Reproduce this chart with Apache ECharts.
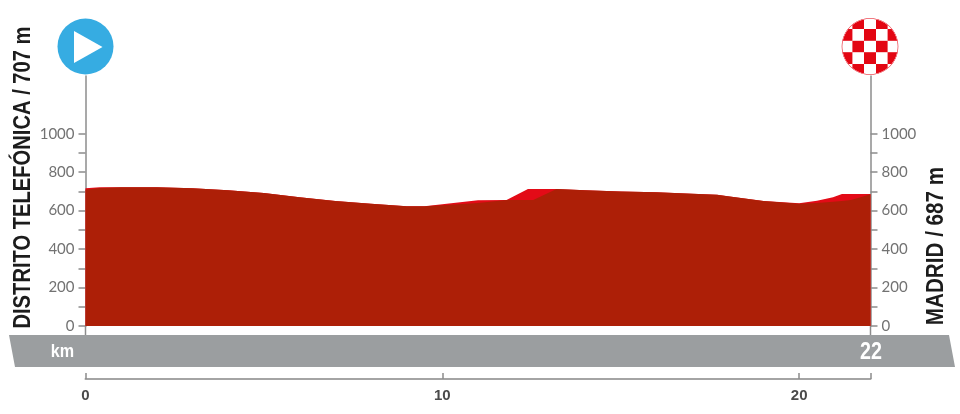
<!DOCTYPE html>
<html><head><meta charset="utf-8">
<style>html,body{margin:0;padding:0;background:#fff}#c{width:960px;height:414px}</style>
<script src="https://cdn.jsdelivr.net/npm/echarts@6/dist/echarts.min.js"></script>
</head><body><div id="c"></div>
<script>
const km =      [0,   0.4, 1,   2,   3,   4,   5,   6,   7,   8,   9,   9.5, 10,  11,  11.8,12.4,12.55,13.2,14,  15,  16,  17,  17.7,18,  19,  20,  20.5,20.95,21.2,21.45,21.65,22];
const topAlt =  [716, 722, 722, 722, 716, 706, 691, 670, 650, 636, 623, 623, 633, 654, 655, 712, 712,  712, 706, 700, 695, 688, 682, 675, 650, 638, 651, 670,  687, 687,  687,  687];
const baseAlt = [708, 718, 722, 722, 716, 706, 691, 670, 650, 636, 623, 623, 628, 640, 655, 655, 655,  712, 706, 700, 695, 688, 682, 675, 650, 636, 639, 646,  650, 655,  665,  685];
const altTicks = [0,100,200,300,400,500,600,700,800,900,1000];
const altLabels = [0,200,400,600,800,1000];
const kmTicks = [0,10,20,22];
const kmLabels = [0,10,20];
const startName = 'DISTRITO TELEFÓNICA / 707 m';
const finishName = 'MADRID / 687 m';

const HEAVY = '"Liberation Sans",sans-serif';
const toPairs = a => km.map((k,i)=>[k,a[i]]);

function yAxisOf(pos){
  return {type:'value',position:pos,min:0,max:1300,interval:100,
    axisLine:{show:true,lineStyle:{color:'#8c8c8c',width:1.5}},
    axisTick:{show:true,length:7,customValues:altTicks,lineStyle:{color:'#8c8c8c',width:1.5}},
    axisLabel:{show:true,customValues:altLabels,margin:11,color:'#727272',fontFamily:'Lato',fontSize:15,formatter:v=>String(v)},
    splitLine:{show:false}};
}
function finishBadge(){
  const s=4,R=28,cv=document.createElement('canvas');
  cv.width=cv.height=2*(R+1)*s;
  const g=cv.getContext('2d');
  g.scale(s,s);g.translate(R+1,R+1);
  g.save();g.beginPath();g.arc(0,0,R,0,7);g.fillStyle='#fff';g.fill();g.clip();
  const c=11.7;g.fillStyle='#e30613';
  for(let i=-3;i<=3;i++)for(let j=-3;j<=3;j++)
    if((i+j)%2!==0)g.fillRect(i*c-c/2,j*c-c/2,c,c);
  g.restore();
  g.beginPath();g.arc(0,0,R,0,7);g.strokeStyle='#f27a82';g.lineWidth=1;g.stroke();
  return cv;
}
const chart=echarts.init(document.getElementById('c'),null,{renderer:'canvas'});
chart.setOption({
  animation:false,backgroundColor:'#fff',
  grid:{left:85.5,right:89.5,top:76,bottom:88,containLabel:false},
  xAxis:{type:'value',min:0,max:22,offset:53,position:'bottom',
    axisLine:{show:true,onZero:false,lineStyle:{color:'#a4a4a4',width:2}},
    axisTick:{show:true,inside:true,length:6,customValues:kmTicks,lineStyle:{color:'#8c8c8c',width:1.5}},
    axisLabel:{show:true,customValues:kmLabels,margin:9,color:'#4a4a4a',fontFamily:HEAVY,fontWeight:'bold',fontSize:15,formatter:v=>String(v)},
    splitLine:{show:false}},
  yAxis:[yAxisOf('left'),yAxisOf('right')],
  series:[
    {name:'climb',type:'line',data:toPairs(topAlt),showSymbol:false,silent:true,lineStyle:{width:0},areaStyle:{color:'#e30b17',opacity:1},z:2},
    {name:'profile',type:'line',data:toPairs(baseAlt),showSymbol:false,silent:true,lineStyle:{width:0},areaStyle:{color:'#ad1f07',opacity:1},z:3}
  ],
  graphic:[
    {type:'polygon',z:1,shape:{points:[[9,335],[949,335],[955,367],[15,367]]},style:{fill:'#9b9ea0'}},
    {type:'line',z:4,shape:{x1:85.5,y1:326,x2:85.5,y2:335},style:{stroke:'#8c8c8c',lineWidth:1.5}},
    {type:'line',z:4,shape:{x1:870.5,y1:326,x2:870.5,y2:335},style:{stroke:'#8c8c8c',lineWidth:1.5}},
    {type:'text',z:5,x:62.5,y:351.5,scaleX:0.85,style:{text:'km',fill:'#fff',font:'bold 19px '+HEAVY,textAlign:'center',textVerticalAlign:'middle'}},
    {type:'text',z:5,x:871,y:352,scaleX:0.82,style:{text:'22',fill:'#fff',font:'bold 24px '+HEAVY,textAlign:'center',textVerticalAlign:'middle'}},
    {type:'text',z:5,x:23.5,y:177.5,rotation:Math.PI/2,scaleX:0.84,style:{text:startName,fill:'#1c1c1c',font:'bold 24px '+HEAVY,textAlign:'center',textVerticalAlign:'middle'}},
    {type:'text',z:5,x:936.5,y:246,rotation:Math.PI/2,scaleX:0.86,style:{text:finishName,fill:'#1c1c1c',font:'bold 24px '+HEAVY,textAlign:'center',textVerticalAlign:'middle'}},
    {type:'circle',z:6,shape:{cx:85.5,cy:46.5,r:28},style:{fill:'#36ace2'}},
    {type:'polygon',z:7,shape:{points:[[74,31],[74,63],[102.5,47]]},style:{fill:'#fff'}},
    {type:'image',z:6,x:841,y:17.5,style:{image:finishBadge(),x:0,y:0,width:58,height:58}}
  ]
});
</script></body></html>
